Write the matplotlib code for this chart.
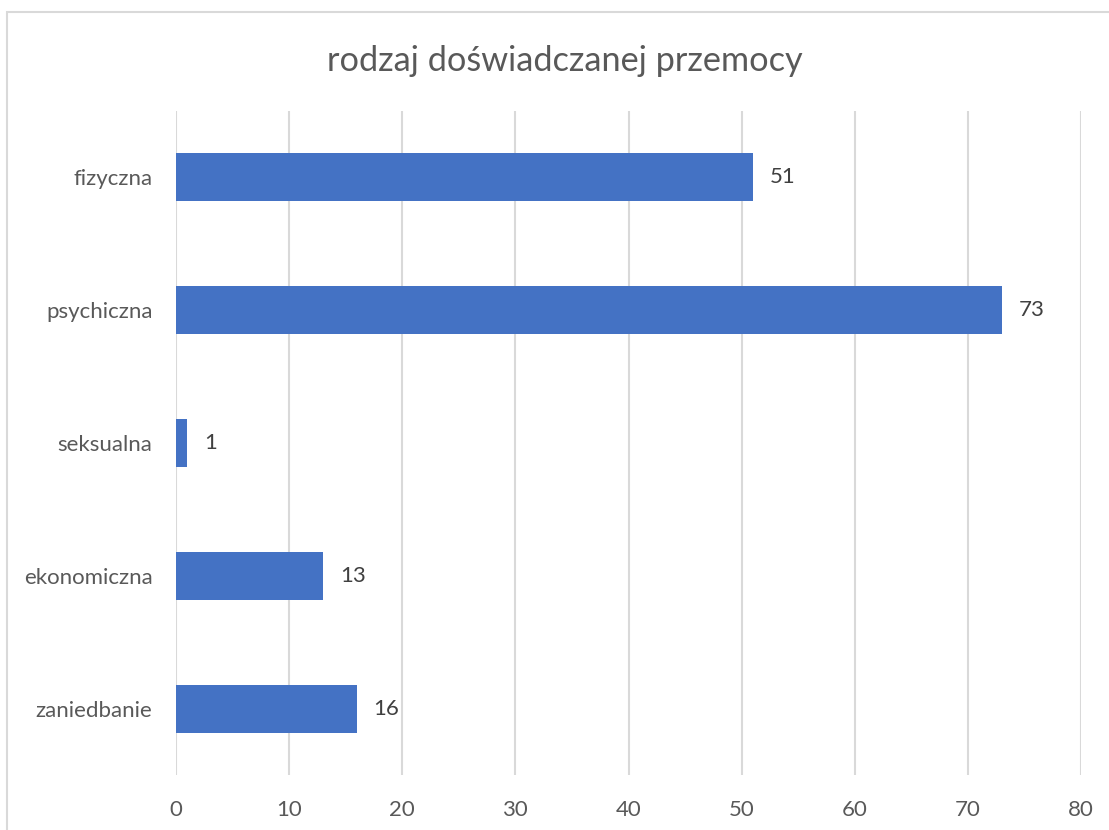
import matplotlib.pyplot as plt
from matplotlib.patches import Rectangle

# data
categories = ['fizyczna', 'psychiczna', 'seksualna', 'ekonomiczna', 'zaniedbanie']
values = [51, 73, 1, 13, 16]
xticks = [0, 10, 20, 30, 40, 50, 60, 70, 80]

plt.rcParams['font.family'] = ['Lato', 'DejaVu Sans']

fig = plt.figure(figsize=(11.09, 8.30), dpi=100)
ax = fig.add_axes([176 / 1109, 55 / 830, 905 / 1109, 664 / 830])

ypos = list(range(len(categories)))
bars = ax.barh(ypos, values, height=0.36, color='#4472C4', zorder=3)
ax.set_ylim(len(categories) - 0.5, -0.5)
ax.set_xlim(0, 80)
ax.set_yticks(ypos)
ax.set_yticklabels(categories)
ax.set_xticks(xticks)

for b, v in zip(bars, values):
    ax.annotate(str(v), (b.get_width(), b.get_y() + b.get_height() / 2),
                xytext=(12, 0), textcoords='offset points', va='center', ha='left',
                fontsize=16, color='#404040')

ax.grid(axis='x', color='#D9D9D9', linewidth=1.5, zorder=0)
for s in ax.spines.values():
    s.set_visible(False)
ax.tick_params(axis='both', length=0, labelsize=16, labelcolor='#595959')
ax.tick_params(axis='x', pad=18)
ax.tick_params(axis='y', pad=17)

fig.text(565 / 1109, 1 - 61 / 830, 'rodzaj doświadczanej przemocy', ha='center', va='center',
         fontsize=24.7, color='#595959')

# chart frame
fig.patches.append(Rectangle((7 / 1109, -0.1), 1.2, 1.1 - 12 / 830, transform=fig.transFigure,
                             fill=False, edgecolor='#D9D9D9', linewidth=1.5))

fig.savefig('out.png', dpi=100)
